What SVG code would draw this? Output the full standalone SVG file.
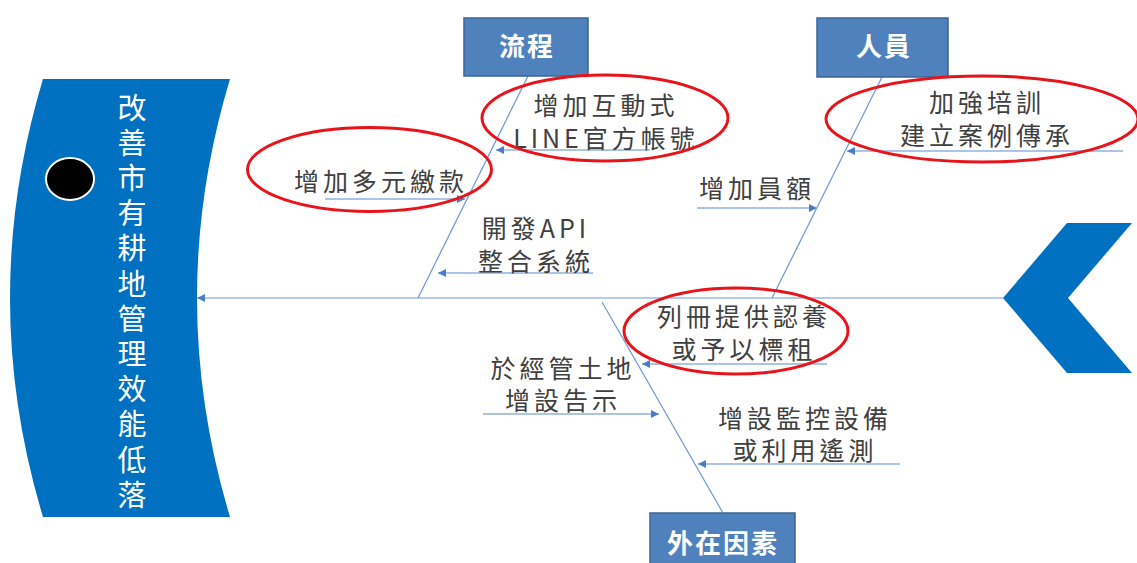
<svg xmlns="http://www.w3.org/2000/svg" width="1137" height="563" viewBox="0 0 1137 563">
<style>
.bone{stroke:#6A97D6;stroke-width:1.2;fill:none}
.sub{stroke:#8FB0E0;stroke-width:1.5;fill:none}
.lbl{font-family:"Noto Sans CJK TC","Noto Sans CJK SC",sans-serif;font-size:25px;fill:#404040;text-anchor:middle;letter-spacing:4px}
.box{fill:#4F81BD;stroke:#3C6494;stroke-width:1.5}
.boxt{font-family:"Noto Sans CJK TC","Noto Sans CJK SC",sans-serif;font-size:26px;font-weight:bold;fill:#FFFFFF;text-anchor:middle;letter-spacing:2px}
.ring{fill:none;stroke:#E8141B;stroke-width:3}
.head{font-family:"Noto Sans CJK TC","Noto Sans CJK SC",sans-serif;font-size:29px;fill:#FFFFFF;writing-mode:vertical-rl;text-orientation:upright;letter-spacing:6.2px}
</style>
<defs>
<marker id="ah" viewBox="0 0 10 10" refX="10" refY="5" markerWidth="9" markerHeight="8" markerUnits="userSpaceOnUse" orient="auto">
<path d="M0,0 L10,5 L0,10 z" fill="#4A7CC8"/>
</marker>
</defs>
<rect width="1137" height="563" fill="#FFFFFF"/>

<g id="head">
<path d="M43,79 L230,79 Q164,298 230,517 L43,517 Q-23,298 43,79 Z" fill="#0070C0"/>
<ellipse cx="70" cy="179" rx="24" ry="21" fill="#000000" stroke="#FFFFFF" stroke-width="2"/>
<text class="head" x="132" y="93">改善市有耕地管理效能低落</text>
</g>

<g id="tail">
<polygon points="1067,223 1132,223 1068,298 1132,373 1067,373 1003,298" fill="#0070C0"/>
</g>

<g id="connectors">
<line class="bone" x1="1003" y1="298" x2="197" y2="298" marker-end="url(#ah)"/>
<line class="bone" x1="528" y1="76" x2="418" y2="298"/>
<line class="bone" x1="882" y1="77" x2="772" y2="298"/>
<line class="bone" x1="602" y1="302" x2="723" y2="513"/>
<line class="sub" x1="650" y1="150" x2="496" y2="150" marker-end="url(#ah)"/>
<line class="sub" x1="325" y1="199" x2="465" y2="199" marker-end="url(#ah)"/>
<line class="sub" x1="593" y1="273" x2="438" y2="273" marker-end="url(#ah)"/>
<line class="sub" x1="1123" y1="151" x2="847" y2="151" marker-end="url(#ah)"/>
<line class="sub" x1="697" y1="208" x2="817" y2="208" marker-end="url(#ah)"/>
<line class="sub" x1="827" y1="364" x2="642" y2="364" marker-end="url(#ah)"/>
<line class="sub" x1="483" y1="414" x2="659" y2="414" marker-end="url(#ah)"/>
<line class="sub" x1="900" y1="464" x2="698" y2="464" marker-end="url(#ah)"/>
</g>

<g id="cat-process">
<rect class="box" x="464" y="18" width="124" height="58"/>
<text class="boxt" x="527" y="56">流程</text>
</g>
<g id="cat-people">
<rect class="box" x="817" y="18" width="131" height="59"/>
<text class="boxt" x="884" y="56">人員</text>
</g>
<g id="cat-external">
<rect class="box" x="650" y="513" width="145" height="60"/>
<text class="boxt" x="723" y="553">外在因素</text>
</g>

<g id="c-line">
<text class="lbl" x="606" y="115"><tspan x="606">增加互動式</tspan><tspan x="606" dy="32.5">LINE官方帳號</tspan></text>
<ellipse class="ring" cx="605" cy="118" rx="123" ry="43"/>
</g>
<g id="c-pay">
<text class="lbl" x="381" y="190.5">增加多元繳款</text>
<ellipse class="ring" cx="369.5" cy="169.5" rx="122" ry="42"/>
</g>
<g id="c-api">
<text class="lbl" x="536" y="237.5"><tspan x="536">開發API</tspan><tspan x="536" dy="33">整合系統</tspan></text>
</g>
<g id="c-train">
<text class="lbl" x="987" y="112"><tspan x="987">加強培訓</tspan><tspan x="987" dy="32.5">建立案例傳承</tspan></text>
<ellipse class="ring" cx="982" cy="119" rx="156" ry="43"/>
</g>
<g id="c-staff">
<text class="lbl" x="757" y="197.5">增加員額</text>
</g>
<g id="c-adopt">
<text class="lbl" x="744" y="326"><tspan x="744">列冊提供認養</tspan><tspan x="744" dy="33">或予以標租</tspan></text>
<ellipse class="ring" cx="736" cy="331" rx="112" ry="43"/>
</g>
<g id="c-sign">
<text class="lbl" x="563" y="377.5"><tspan x="563">於經管土地</tspan><tspan x="563" dy="32.5">增設告示</tspan></text>
</g>
<g id="c-monitor">
<text class="lbl" x="805" y="427.5"><tspan x="805">增設監控設備</tspan><tspan x="805" dy="32.5">或利用遙測</tspan></text>
</g>
</svg>
